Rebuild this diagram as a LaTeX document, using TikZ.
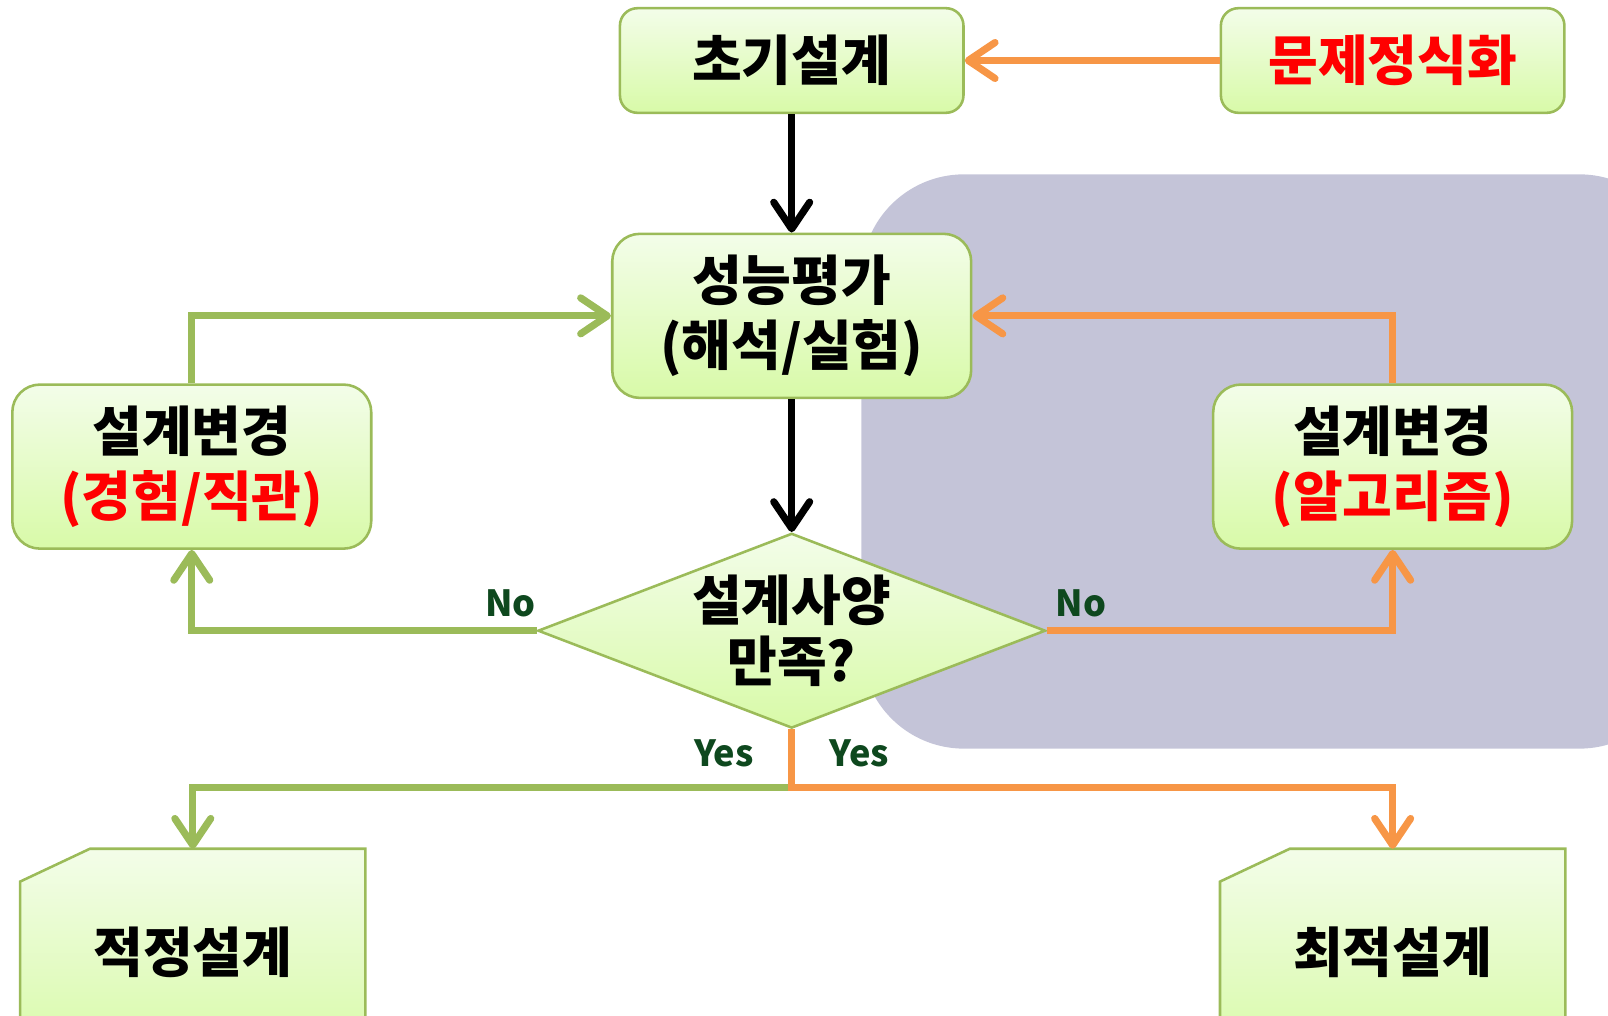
\documentclass[tikz,border=0pt]{standalone}
\usepackage{fontspec}
\setmainfont{Noto Sans CJK KR}
\usepackage{xcolor}
\usepackage{tikz}
\usetikzlibrary{calc, shapes.geometric, arrows.meta}
\pgfdeclarelayer{background}
\pgfsetlayers{background,main}
\definecolor{boxgreen}{RGB}{155,187,89}
\definecolor{lineorange}{RGB}{247,150,70}
\definecolor{labelgreen}{RGB}{14,72,30}
\definecolor{areagrey}{RGB}{196,196,216}
\definecolor{boxtop}{RGB}{243,253,233}
\definecolor{boxbottom}{RGB}{216,250,168}
\definecolor{alertred}{RGB}{255,0,0}
\tikzstyle{box}        = [rectangle, rounded corners=5.4mm, minimum width=70mm, minimum height=32mm, inner sep=0pt, align=center, draw=boxgreen, line width=0.5mm, top color=boxtop, bottom color=boxbottom, font=\bfseries\fontsize{30}{36}\selectfont]
\tikzstyle{smallbox}   = [box, rounded corners=3.4mm, minimum width=67mm, minimum height=20.4mm]
\tikzstyle{decision}   = [diamond, aspect=2.6, minimum width=99mm, minimum height=38mm, inner sep=0pt, align=center, draw=boxgreen, line width=0.5mm, top color=boxtop, bottom color=boxbottom, font=\bfseries\fontsize{30}{34}\selectfont]
\tikzstyle{result}     = [rectangle, minimum width=67.2mm, minimum height=40.4mm, inner sep=0pt, font=\bfseries\fontsize{30}{35}\selectfont]
\tikzstyle{resultcard} = [draw=boxgreen, line width=0.5mm, top color=boxtop, bottom color=boxbottom]
\tikzstyle{answer}     = [inner sep=0pt, text=labelgreen, font=\bfseries\fontsize{20}{24}\selectfont]
\tikzstyle{arrow}      = [line width=1.4mm, -{Straight Barb[round, length=5.2mm, width=7mm]}]
\tikzstyle{karrow}     = [arrow, black]
\tikzstyle{garrow}     = [arrow, boxgreen]
\tikzstyle{oarrow}     = [arrow, lineorange]

\begin{document}
\begin{tikzpicture}[x=0.2mm, y=-0.2mm]
    \useasboundingbox (0,0) rectangle (1568,990);

    \node (init) [smallbox] at (772,59) {초기설계};
    \node (prob) [smallbox, right of=init, node distance=117.2mm] {\textcolor{alertred}{문제정식화}};
    \node (perf) [box, below of=init, node distance=49.8mm] {성능평가\\(해석/실험)};
    \node (dec)  [decision, below of=perf, node distance=61.4mm] {설계사양\\만족?};
    \node (chgL) [box] at (187,455) {설계변경\\\textcolor{alertred}{(경험/직관)}};
    \node (chgR) [box] at (1358,455) {설계변경\\\textcolor{alertred}{(알고리즘)}};
    \node (okd)  [result] at (188,929) {적정설계};
    \node (optd) [result] at (1358,929) {최적설계};

    \node (noL)  [answer] at (498,588) {No};
    \node (noR)  [answer] at (1054,588) {No};
    \node (yesL) [answer] at (706,735) {Yes};
    \node (yesR) [answer] at (838,735) {Yes};

    \coordinate (split) at (772,768);

    \draw [karrow] (init) -- (perf);
    \draw [karrow] (perf) -- (dec);
    \draw [oarrow] (prob) -- (init);
    \draw [garrow] (dec.west) -| (chgL.south);
    \draw [garrow] (chgL.north) |- (perf.west);
    \draw [oarrow] (dec.east) -| (chgR.south);
    \draw [oarrow] (chgR.north) |- (perf.east);
    \draw [garrow] (dec.south) -- (split) -| (okd.north);
    \draw [oarrow] (dec.south) -- (split) -| (optd.north);

    \begin{pgfonlayer}{background}
      \fill [areagrey, rounded corners=20mm] (840,170) rectangle (1640,730);
      \path [resultcard] ($(okd.north west)+(0,32)$) -- ($(okd.north west)+(68,0)$) -- (okd.north east) -- (okd.south east) -- (okd.south west) -- cycle;
      \path [resultcard] ($(optd.north west)+(0,32)$) -- ($(optd.north west)+(68,0)$) -- (optd.north east) -- (optd.south east) -- (optd.south west) -- cycle;
    \end{pgfonlayer}

\end{tikzpicture}
\end{document}
